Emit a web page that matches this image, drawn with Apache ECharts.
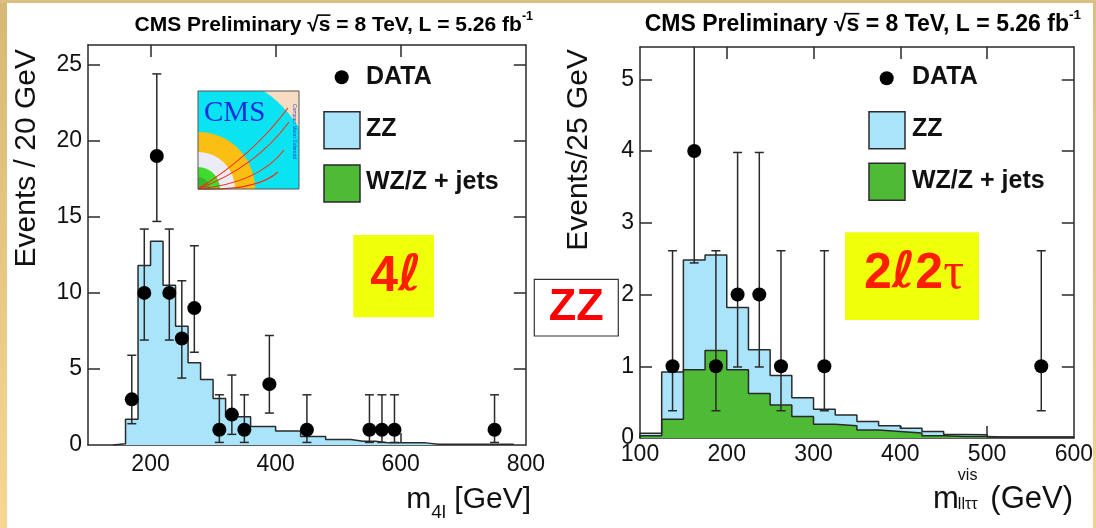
<!DOCTYPE html>
<html>
<head>
<meta charset="utf-8">
<script src="https://cdn.jsdelivr.net/npm/echarts@6/dist/echarts.min.js"></script>
<style>
  html, body { margin: 0; padding: 0; background: #fff; }
  #page { position: relative; width: 1096px; height: 528px; overflow: hidden; background: #fff; }
  #left  { position: absolute; left: 0; top: 0; width: 548px; height: 528px; }
  #right { position: absolute; left: 530px; top: 0; width: 566px; height: 528px; }
  .edge { position: absolute; z-index: 5; }
  #edgeL { left: 0; top: 0; width: 7px; height: 528px; background: linear-gradient(#d7b877, #f8d594); }
  #edgeT { left: 0; top: 0; width: 1096px; height: 3px; background: #dcbf82; }
  #edgeR { left: 1093px; top: 0; width: 3px; height: 528px; background: linear-gradient(#dcbf82, #f3d18f); }
</style>
</head>
<body>
<div id="page">
  <div id="left"></div>
  <div id="right"></div>
  <div class="edge" id="edgeL"></div>
  <div class="edge" id="edgeT"></div>
  <div class="edge" id="edgeR"></div>
</div>
<script>
// ---------------- 4l channel (20 GeV bins from 140 GeV) ----------------
const binStart4l = 140;
const binWidth4l = 20;
const zz4l = [0.08, 1.7, 11.8, 13.4, 10.5, 7.8, 5.4, 4.3, 3.05, 1.85, 1.85, 1.22, 1.22,
              0.92, 0.92, 0.56, 0.56, 0.36, 0.36, 0.25, 0.25, 0.14, 0.14, 0.14, 0.14,
              0.05, 0.05, 0.05, 0.05, 0.05, 0.05, 0.05];
const mass4l   = [170, 190, 210, 230, 250, 270, 310, 330, 350, 390, 450, 550, 570, 590, 750];
const events4l = [3, 10, 19, 10, 7, 9, 1, 2, 1, 4, 1, 1, 1, 1, 1];
const low4l    = [1.4, 6.9, 14.7, 6.9, 4.4, 6.1, 0.17, 0.7, 0.17, 2.1, 0.17, 0.17, 0.17, 0.17, 0.17];
const high4l   = [5.9, 14.2, 24.4, 14.2, 10.8, 13.1, 3.3, 4.6, 3.3, 7.2, 3.3, 3.3, 3.3, 3.3, 3.3];
const xLabels4l = [200, 400, 600, 800];
const yLabels4l = [0, 5, 10, 15, 20, 25];

// ---------------- 2l2tau channel (25 GeV bins from 100 GeV) ----------------
const binStartTT = 100;
const binWidthTT = 25;
const zzTT = [0.035, 0.66, 1.53, 1.33, 0.87, 0.61, 0.41, 0.26, 0.21, 0.15, 0.12, 0.08,
              0.065, 0.06, 0.03, 0.025, 0.005, 0.005, 0.005, 0.005];
const wzTT = [0.03, 0.26, 0.95, 1.22, 0.95, 0.62, 0.46, 0.30, 0.19, 0.17, 0.11, 0.09,
              0.07, 0.03, 0.02, 0.02, 0.01, 0.01, 0.01, 0.01];
const massTT   = [137.5, 162.5, 187.5, 212.5, 237.5, 262.5, 312.5, 562.5];
const eventsTT = [1, 4, 1, 2, 2, 1, 1, 1];
const lowTT    = [0.38, 2.44, 0.38, 0.99, 0.99, 0.38, 0.38, 0.38];
const highTT   = [2.61, 6.4, 2.61, 3.98, 3.98, 2.61, 2.61, 2.61];
const xLabelsTT = [100, 200, 300, 400, 500, 600];
const yLabelsTT = [0, 1, 2, 3, 4, 5];

// ---------------- styling ----------------
const SANS = '"Liberation Sans", Arial, Helvetica, sans-serif';
const FRAME = '#2a2a2a';
const ZZ_FILL = '#aae4fa';
const WZ_FILL = '#4fba35';
const RED = '#ff1e00';
const YELLOW = '#f0ff0a';

const measureCtx = document.createElement('canvas').getContext('2d');
function textWidth(txt, font) { measureCtx.font = font; return measureCtx.measureText(txt).width; }

// points for a filled step histogram drawn with a step line
function stepPoints(start, width, values) {
  const pts = [[start, 0]];
  values.forEach((v, i) => pts.push([start + i * width, v]));
  pts.push([start + values.length * width, values[values.length - 1]]);
  pts.push([start + values.length * width, 0]);
  return pts;
}

function histSeries(start, width, values, fill) {
  return {
    type: 'line', step: 'end', symbol: 'none', silent: true,
    data: stepPoints(start, width, values),
    lineStyle: { color: FRAME, width: 1.5 },
    areaStyle: { color: fill, opacity: 1 },
    z: 2
  };
}

function errorBarSeries(xs, lows, highs) {
  return {
    type: 'custom', clip: true, silent: true, z: 4,
    data: xs.map((x, i) => [x, lows[i], highs[i]]),
    encode: { x: 0, y: [1, 2] },
    renderItem(params, api) {
      const top = api.coord([api.value(0), api.value(2)]);
      const bot = api.coord([api.value(0), api.value(1)]);
      const c = 4.5;
      const st = { stroke: FRAME, lineWidth: 1.5 };
      return {
        type: 'group', children: [
          { type: 'line', shape: { x1: top[0], y1: top[1], x2: bot[0], y2: bot[1] }, style: st },
          { type: 'line', shape: { x1: top[0] - c, y1: top[1], x2: top[0] + c, y2: top[1] }, style: st },
          { type: 'line', shape: { x1: bot[0] - c, y1: bot[1], x2: bot[0] + c, y2: bot[1] }, style: st }
        ]
      };
    }
  };
}

function pointSeries(xs, ns) {
  return {
    type: 'scatter', symbol: 'circle', symbolSize: 14, silent: true, z: 5,
    data: xs.map((x, i) => [x, ns[i]]),
    itemStyle: { color: '#000', opacity: 1 }
  };
}

function frameAxes(xMin, xMax, xLabels, xTicks, yMax, yLabels, yTicks, xMargin) {
  const line = { show: true, onZero: false, lineStyle: { color: FRAME, width: 1.5 } };
  const tick = (vals) => ({ show: true, inside: true, length: 12, customValues: vals,
                            lineStyle: { color: FRAME, width: 1.5 } });
  const label = { color: '#111', fontSize: 23, fontFamily: SANS };
  return {
    xAxis: [
      { type: 'value', min: xMin, max: xMax, position: 'bottom', axisLine: line,
        axisTick: tick(xTicks), splitLine: { show: false },
        axisLabel: Object.assign({ customValues: xLabels, margin: xMargin }, label) },
      { type: 'value', min: xMin, max: xMax, position: 'top', axisLine: line,
        axisTick: tick(xTicks), splitLine: { show: false }, axisLabel: { show: false } }
    ],
    yAxis: [
      { type: 'value', min: 0, max: yMax, position: 'left', axisLine: line,
        axisTick: tick(yTicks), splitLine: { show: false },
        axisLabel: Object.assign({ customValues: yLabels, margin: 6 }, label) },
      { type: 'value', min: 0, max: yMax, position: 'right', axisLine: line,
        axisTick: tick(yTicks), splitLine: { show: false }, axisLabel: { show: false } }
    ]
  };
}

// "CMS Preliminary sqrt(s) = 8 TeV, L = 5.26 fb^-1", right edge at rightX
function titleElements(rightX, midY, size, supSize) {
  const f = `bold ${size}px ${SANS}`;
  const fs = `bold ${supSize}px ${SANS}`;
  const tail = ' = 8 TeV, L = 5.26 fb';
  const main = 'CMS Preliminary \u221As' + tail;
  const endMain = rightX - textWidth('-1', fs);
  const wS = textWidth('s', f);
  const sx = endMain - textWidth(tail, f) - wS;
  const barY = midY - size * 0.47;
  return [
    { type: 'text', x: endMain, y: midY, silent: true,
      style: { text: main, font: f, fill: '#000', align: 'right', textAlign: 'right',
               verticalAlign: 'middle', textVerticalAlign: 'middle' } },
    { type: 'text', x: endMain, y: midY - size * 0.4, silent: true,
      style: { text: '-1', font: fs, fill: '#000', align: 'left', textAlign: 'left',
               verticalAlign: 'middle', textVerticalAlign: 'middle' } },
    { type: 'line', silent: true, shape: { x1: sx - 1, y1: barY, x2: sx + wS, y2: barY },
      style: { stroke: '#000', lineWidth: 1.6 } }
  ];
}

function plainText(x, y, text, font, align, fill) {
  return { type: 'text', x: x, y: y, silent: true,
    style: { text: text, font: font, fill: fill || '#111', align: align, textAlign: align,
             verticalAlign: 'middle', textVerticalAlign: 'middle' } };
}

function legendElements(dx, dotX, dotY, boxX, boxY1, boxY2, textX, yData, yZZ, yWZ) {
  const f = `bold 25px ${SANS}`;
  return [
    { type: 'circle', silent: true, shape: { cx: dotX - dx, cy: dotY, r: 7 }, style: { fill: '#000' } },
    plainText(textX - dx, yData, 'DATA', f, 'left'),
    { type: 'rect', silent: true, shape: { x: boxX - dx, y: boxY1, width: 36, height: 37 },
      style: { fill: ZZ_FILL, stroke: FRAME, lineWidth: 1.5 } },
    plainText(textX - dx, yZZ, 'ZZ', f, 'left'),
    { type: 'rect', silent: true, shape: { x: boxX - dx, y: boxY2, width: 36, height: 37 },
      style: { fill: WZ_FILL, stroke: FRAME, lineWidth: 1.5 } },
    plainText(textX - dx, yWZ, 'WZ/Z + jets', f, 'left')
  ];
}

// star-shaped region {r <= R} inside a box, seen from its bottom-left corner
function quarterDiscInBox(cx, cy, W, H, R) {
  const angles = [];
  for (let i = 0; i <= 120; i++) angles.push(i / 120 * Math.PI / 2);
  angles.push(Math.atan2(H, W));
  angles.sort((a, b) => a - b);
  const pts = [[cx, cy]];
  angles.forEach(t => {
    const c = Math.cos(t), s = Math.sin(t);
    const d = Math.min(c > 1e-9 ? W / c : Infinity, s > 1e-9 ? H / s : Infinity);
    const r = Math.min(R, d);
    pts.push([cx + r * c, cy - r * s]);
  });
  return pts;
}

function cmsLogo() {
  const X = 198, Y = 91, W = 101, H = 98;
  const cx = X, cy = Y + H;
  const ring = (r, color) => ({ type: 'sector', silent: true,
    shape: { cx: cx, cy: cy, r0: 0, r: r, startAngle: -Math.PI / 2, endAngle: 0 },
    style: { fill: color } });
  const track = (ex, ey, kx, ky) => ({ type: 'bezierCurve', silent: true,
    shape: { x1: cx, y1: cy, x2: ex, y2: ey, cpx1: kx, cpy1: ky },
    style: { stroke: '#ff2a10', lineWidth: 1.1, fill: null } });
  return [
    { type: 'rect', silent: true, shape: { x: X, y: Y, width: W, height: H }, style: { fill: '#f7dcc1' } },
    { type: 'polygon', silent: true, shape: { points: quarterDiscInBox(cx, cy, W, H, 118) }, style: { fill: '#0ae4f2' } },
    ring(57, '#fbbf14'),
    ring(37, '#ececf6'),
    ring(22, '#3fdc2f'),
    ring(12, '#34b82a'),
    track(288, 108, 252, 156),
    track(289, 122, 256, 167),
    track(284, 150, 259, 183),
    track(278, 172, 257, 191),
    plainText(204, 113, 'CMS', `29px "Liberation Serif", "Times New Roman", serif`, 'left', '#1a2fe0'),
    { type: 'text', x: 294, y: 104, rotation: -Math.PI / 2, silent: true,
      style: { text: 'Compact Muon Solenoid', font: `5px ${SANS}`, fill: '#2a3fd0',
               align: 'left', textAlign: 'left', verticalAlign: 'middle', textVerticalAlign: 'middle' } },
    { type: 'rect', silent: true, shape: { x: X, y: Y, width: W, height: H },
      style: { fill: null, stroke: '#555', lineWidth: 1 } }
  ];
}

function channelTag(cx, cy, text, rich) {
  return { type: 'text', x: cx, y: cy, silent: true,
    style: { text: text, rich: rich, align: 'center', textAlign: 'center',
             verticalAlign: 'middle', textVerticalAlign: 'middle' } };
}
const tagRich = {
  n: { fontSize: 50, fontWeight: 'bold', fontFamily: SANS, fill: RED, color: RED },
  l: { fontSize: 50, fontWeight: 'bold', fontFamily: '"DejaVu Sans", sans-serif', fill: RED, color: RED },
  t: { fontSize: 52, fontFamily: '"Liberation Serif", serif', fill: RED, color: RED }
};

// ================= left panel: 4l =================
const leftChart = echarts.init(document.getElementById('left'), null, { renderer: 'canvas' });
const leftAxes = frameAxes(100, 800, xLabels4l, [200, 400, 600], 26.3, yLabels4l, [5, 10, 15, 20, 25], 8);
leftChart.setOption({
  animation: false,
  grid: { left: 88, top: 45, width: 444, height: 400, containLabel: false },
  xAxis: leftAxes.xAxis,
  yAxis: leftAxes.yAxis,
  series: [
    histSeries(binStart4l, binWidth4l, zz4l, ZZ_FILL),
    errorBarSeries(mass4l, low4l, high4l),
    pointSeries(mass4l, events4l)
  ],
  graphic: { elements: [].concat(
    titleElements(533, 25, 21, 12.5),
    legendElements(0, 341.7, 77.3, 324, 111.7, 165, 366, 77, 129.5, 182),
    cmsLogo(),
    [
      { type: 'rect', silent: true, shape: { x: 353.3, y: 235, width: 80.7, height: 82.3 }, style: { fill: YELLOW } },
      channelTag(396, 277, '{n|4}{l|\u2113}', tagRich),
      { type: 'text', x: 27, y: 49, rotation: Math.PI / 2, silent: true,
        style: { text: 'Events / 20 GeV', font: `30px ${SANS}`, fill: '#111', align: 'right', textAlign: 'right',
                 verticalAlign: 'middle', textVerticalAlign: 'middle' } }
    ],
    (function () {
      const F = `30px ${SANS}`, S = `19px ${SANS}`;
      const wM = textWidth('m', F), wSub = textWidth('4l', S), wRest = textWidth(' [GeV]', F);
      const x0 = 531 - wM - wSub - wRest;
      return [
        plainText(x0, 510 - 10.4, 'm', F, 'left'),
        plainText(x0 + wM, 519 - 6.6, '4l', S, 'left'),
        plainText(x0 + wM + wSub, 510 - 10.4, ' [GeV]', F, 'left')
      ];
    })()
  ) }
});

// ================= right panel: 2l2tau =================
const OX = 530; // left edge of this panel's canvas on the page
const totalTT = zzTT.map((v, i) => v + wzTT[i]);
const rightChart = echarts.init(document.getElementById('right'), null, { renderer: 'canvas' });
const rightAxes = frameAxes(100, 600, xLabelsTT, [200, 300, 400, 500], 5.45, yLabelsTT, [1, 2, 3, 4, 5], 5);
rightChart.setOption({
  animation: false,
  grid: { left: 640 - OX, top: 47, width: 434, height: 391, containLabel: false },
  xAxis: rightAxes.xAxis,
  yAxis: rightAxes.yAxis,
  series: [
    histSeries(binStartTT, binWidthTT, totalTT, ZZ_FILL),
    histSeries(binStartTT, binWidthTT, wzTT, WZ_FILL),
    errorBarSeries(massTT, lowTT, highTT),
    pointSeries(massTT, eventsTT)
  ],
  graphic: { elements: [].concat(
    titleElements(1081 - OX, 24.5, 23, 13.5),
    legendElements(OX, 886.7, 78.3, 869, 111.7, 163.3, 912, 77.5, 129.5, 181),
    [
      { type: 'rect', silent: true, shape: { x: 845 - OX, y: 232.3, width: 134, height: 87.7 }, style: { fill: YELLOW } },
      channelTag(914 - OX, 274, '{n|2}{l|\u2113}{n|2}{t|\u03C4}', tagRich),
      { type: 'rect', silent: true, shape: { x: 534.3 - OX, y: 279.3, width: 84, height: 56.7 },
        style: { fill: '#fff', stroke: '#333', lineWidth: 1.2 } },
      { type: 'text', x: 576.3 - OX, y: 308, silent: true,
        style: { text: 'ZZ', font: `bold 45px ${SANS}`, fill: '#ff0000', align: 'center', textAlign: 'center',
                 verticalAlign: 'middle', textVerticalAlign: 'middle' } },
      { type: 'text', x: 579 - OX, y: 49, rotation: Math.PI / 2, silent: true,
        style: { text: 'Events/25 GeV', font: `30px ${SANS}`, fill: '#111', align: 'right', textAlign: 'right',
                 verticalAlign: 'middle', textVerticalAlign: 'middle' } }
    ],
    (function () {
      const F = `31px ${SANS}`, S = `16px ${SANS}`;
      const wM = textWidth('m', F);
      const xm = 933 - OX;
      return [
        plainText(xm, 510 - 10.8, 'm', F, 'left'),
        plainText(xm + wM - 1, 481.5 - 5.6, 'vis', S, 'left'),
        plainText(xm + wM - 1, 510 - 5.6, 'll\u03C4\u03C4', S, 'left'),
        plainText(1073 - OX, 510 - 10.8, '(GeV)', F, 'right')
      ];
    })()
  ) }
});
</script>
</body>
</html>
